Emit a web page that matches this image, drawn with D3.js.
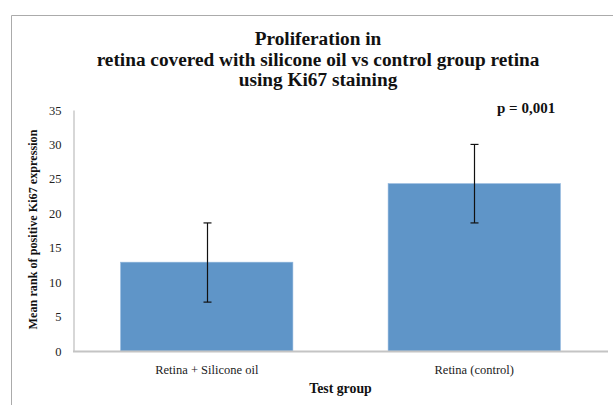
<!DOCTYPE html>
<html>
<head>
<meta charset="utf-8">
<script src="https://cdn.jsdelivr.net/npm/d3@7"></script>
<style>
  html, body { margin: 0; background: #fff; overflow: hidden; }
  svg { display: block; }
  .serif { font-family: "Liberation Serif", "DejaVu Serif", serif; }
</style>
</head>
<body>
<svg id="chart"></svg>
<script>
const groups = ["Retina + Silicone oil", "Retina (control)"]
const meanRank = [12.9, 24.3]
const errLow = [7.1, 18.6]
const errHigh = [18.6, 30.0]
const yTicks = [0, 5, 10, 15, 20, 25, 30, 35]
const titleLines = ["Proliferation in", "retina covered with silicone oil vs control group retina", "using Ki67 staining"]

const W = 613, H = 405
const svg = d3.select('#chart').attr('width', W).attr('height', H)

// outer frame (only left and top visible)
svg.append('path')
    .attr('d', `M11.5,${H} V15.5 H${W}`)
    .attr('fill', 'none')
    .attr('stroke', '#ababab')
    .attr('stroke-width', 1)

const x0 = 73, x1 = 608, yTop = 110, yBot = 351

const xScale = d3.scaleBand()
    .domain(groups)
    .range([x0, x1])
    .paddingInner(0.356)
    .paddingOuter(0.178)

const yScale = d3.scaleLinear()
    .domain([0, 35])
    .range([yBot, yTop])

const data = groups.map((g, i) => ({group: g, value: meanRank[i], lo: errLow[i], hi: errHigh[i]}))

// bars
svg.append('g').selectAll('rect')
    .data(data)
    .join('rect')
        .attr('x', d => xScale(d.group))
        .attr('width', xScale.bandwidth())
        .attr('y', d => yScale(d.value))
        .attr('height', d => yScale(0) - yScale(d.value))
        .attr('fill', '#5f95c8')
        .attr('stroke', '#8fb5dc')
        .attr('stroke-width', 0.6)

// error bars
const eb = svg.append('g').selectAll('g')
    .data(data)
    .join('g')
        .attr('transform', d => `translate(${Math.round(xScale(d.group) + xScale.bandwidth() / 2) + 0.5}, 0)`)
eb.append('line')
    .attr('y1', d => yScale(d.lo)).attr('y2', d => yScale(d.hi))
    .attr('stroke', '#111').attr('stroke-width', 1.2)
eb.selectAll('.cap')
    .data(d => [d.lo, d.hi])
    .join('line')
        .attr('class', 'cap')
        .attr('x1', -4).attr('x2', 4)
        .attr('y1', v => yScale(v)).attr('y2', v => yScale(v))
        .attr('stroke', '#111').attr('stroke-width', 1.2)

// y axis
const yAxis = d3.axisLeft(yScale).tickValues(yTicks).tickSizeInner(0).tickSizeOuter(0).tickPadding(12)
const yAxisGroup = svg.append('g')
    .attr('transform', `translate(${x0 + 0.5}, 0)`)
    .call(yAxis)
yAxisGroup.select('.domain').attr('stroke', '#bdbdbd').attr('stroke-width', 1.2)
yAxisGroup.selectAll('text')
    .attr('class', 'serif')
    .attr('font-size', 12.5)
    .attr('fill', '#222')

// x axis
const xAxis = d3.axisBottom(xScale).tickSizeInner(0).tickSizeOuter(0).tickPadding(14)
const xAxisGroup = svg.append('g')
    .attr('transform', `translate(0, ${yBot})`)
    .call(xAxis)
xAxisGroup.select('.domain').remove()
xAxisGroup.selectAll('.tick line').remove()
xAxisGroup.append('rect')
    .attr('x', xScale.range()[0])
    .attr('width', xScale.range()[1] - xScale.range()[0])
    .attr('y', -0.5)
    .attr('height', 2)
    .attr('fill', '#c4c4c4')
xAxisGroup.selectAll('text')
    .attr('class', 'serif')
    .attr('font-size', 12.5)
    .attr('fill', '#222')

// title
svg.append('text')
    .attr('class', 'serif')
    .attr('text-anchor', 'middle')
    .attr('font-weight', 'bold')
    .attr('font-size', 19.3)
    .attr('fill', '#111')
    .selectAll('tspan')
    .data(titleLines)
    .join('tspan')
        .attr('x', 318)
        .attr('y', (d, i) => 45 + i * 20.5)
        .text(d => d)

// axis titles
svg.append('text')
    .attr('class', 'serif')
    .attr('text-anchor', 'middle')
    .attr('font-weight', 'bold')
    .attr('font-size', 13.8)
    .attr('fill', '#111')
    .attr('x', (x0 + x1) / 2)
    .attr('y', 393)
    .text('Test group')

svg.append('text')
    .attr('class', 'serif')
    .attr('text-anchor', 'middle')
    .attr('font-weight', 'bold')
    .attr('font-size', 12.2)
    .attr('fill', '#111')
    .attr('transform', `translate(37, ${(yTop + yBot) / 2 - 1}) rotate(-90)`)
    .text('Mean rank of positive Ki67 expression')

// p value
svg.append('text')
    .attr('class', 'serif')
    .attr('font-weight', 'bold')
    .attr('font-size', 15)
    .attr('fill', '#111')
    .attr('x', 497)
    .attr('y', 113)
    .text('p = 0,001')
</script>
</body>
</html>
